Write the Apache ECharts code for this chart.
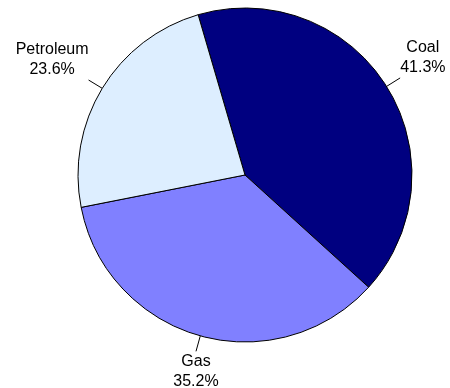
<!DOCTYPE html>
<html><head><meta charset="utf-8">
<script src="https://cdn.jsdelivr.net/npm/echarts@6/dist/echarts.min.js"></script>
<style>html,body{margin:0;padding:0;background:#fff}#c{width:450px;height:388px}</style>
</head><body><div id="c"></div>
<script>
const categories = ['Coal', 'Gas', 'Petroleum'];
const values = [41.3, 35.2, 23.6];
const colors = ['#000080', '#8080ff', '#ddeeff'];

const chart = echarts.init(document.getElementById('c'), null, {renderer: 'canvas'});
chart.setOption({
  animation: false,
  series: [{
    type: 'pie',
    center: [245, 175],
    radius: 167,
    startAngle: 106.3,
    clockwise: true,
    data: categories.map((c, i) => ({name: c, value: values[i], itemStyle: {color: colors[i]}})),
    itemStyle: {borderColor: '#000', borderWidth: 1},
    label: {
      show: true,
      position: 'outside',
      formatter: p => p.name + '\n' + p.value.toFixed(1) + '%',
      color: '#000',
      fontFamily: 'Liberation Sans, Arial, sans-serif',
      fontSize: 16,
      lineHeight: 20,
      align: 'center',
      overflow: 'none'
    },
    labelLine: {show: true, length: 16, length2: 0, lineStyle: {color: '#000', width: 1}},
    labelLayout: function (p) {
      const pts = p.labelLinePoints;
      if (!pts) return {};
      const a = pts[0], b = pts[pts.length - 1];
      const dx = b[0] - a[0], dy = b[1] - a[1];
      const len = Math.hypot(dx, dy) || 1;
      const ux = dx / len, uy = dy / len;
      const w = p.labelRect.width;
      let x = b[0];
      if (ux > 0.5) x = b[0] + w / 2;
      else if (ux < -0.5) x = b[0] - w / 2;
      const verticalAlign = uy < 0 ? 'bottom' : 'top';
      return {x: x, y: b[1], align: 'center', verticalAlign: verticalAlign, labelLinePoints: pts};
    }
  }]
});
</script></body></html>
